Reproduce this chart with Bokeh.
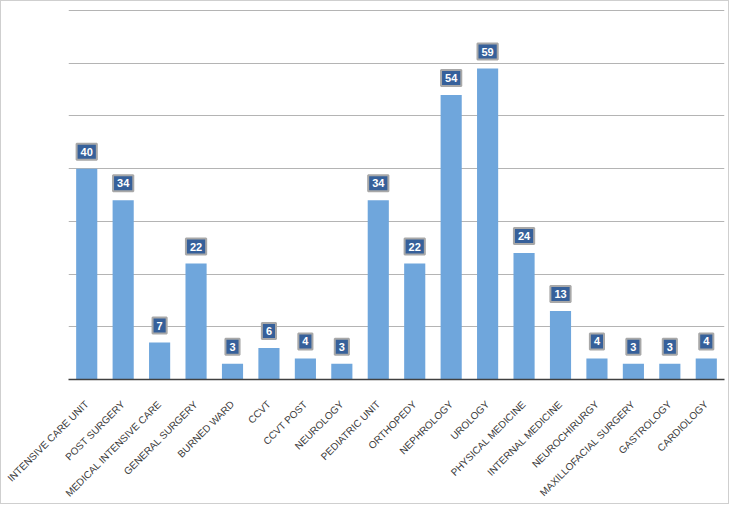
from bokeh.plotting import figure
from bokeh.models import ColumnDataSource, FactorRange, Range1d, FixedTicker
from bokeh.core.properties import value
from bokeh.embed import file_html
from bokeh.resources import INLINE
import math

departments = ["INTENSIVE CARE UNIT", "POST SURGERY", "MEDICAL INTENSIVE CARE", "GENERAL SURGERY",
               "BURNED WARD", "CCVT", "CCVT POST", "NEUROLOGY", "PEDIATRIC UNIT", "ORTHOPEDY",
               "NEPHROLOGY", "UROLOGY", "PHYSICAL MEDICINE", "INTERNAL MEDICINE", "NEUROCHIRURGY",
               "MAXILLOFACIAL SURGERY", "GASTROLOGY", "CARDIOLOGY"]
counts = [40, 34, 7, 22, 3, 6, 4, 3, 34, 22, 54, 59, 24, 13, 4, 3, 3, 4]
grid_ticks = [10, 20, 30, 40, 50, 60, 70]

src = ColumnDataSource(dict(x=departments, y=counts, lab=[str(c) for c in counts]))

p = figure(x_range=FactorRange(*departments), y_range=Range1d(0, 70.2),
           width=729, height=504, output_backend="svg", toolbar_location=None,
           min_border_left=67, min_border_right=6, min_border_top=8, min_border_bottom=126)
p.styles = {"border": "1px solid #cfcfcf"}

p.vbar(x="x", top="y", width=0.58, source=src, color="#6fa6dc", line_color=None)

p.text(x="x", y="y", text="lab", source=src, y_offset=-9,
       text_align="center", text_baseline="bottom",
       text_color="white", text_font=value("Liberation Sans"), text_font_size="11px",
       text_font_style="bold",
       background_fill_color="#36609a", border_line_color="#a8a8a8",
       border_line_width=2, padding=4)

p.yaxis.visible = False
p.xgrid.visible = False
p.ygrid.ticker = FixedTicker(ticks=grid_ticks)
p.ygrid.grid_line_color = "#b4b4b4"
p.ygrid.grid_line_width = 1
p.outline_line_color = None

p.xaxis.axis_line_color = "#404040"
p.xaxis.axis_line_width = 1.5
p.xaxis.major_tick_line_color = None
p.xaxis.minor_tick_line_color = None
p.xaxis.major_label_orientation = math.pi / 4
p.xaxis.major_label_text_font = "Liberation Sans"
p.xaxis.major_label_text_font_size = "10px"
p.xaxis.major_label_text_color = "#3a3a3a"
p.xaxis.major_label_standoff = 17

open("out.html", "w").write(file_html(p, INLINE))
